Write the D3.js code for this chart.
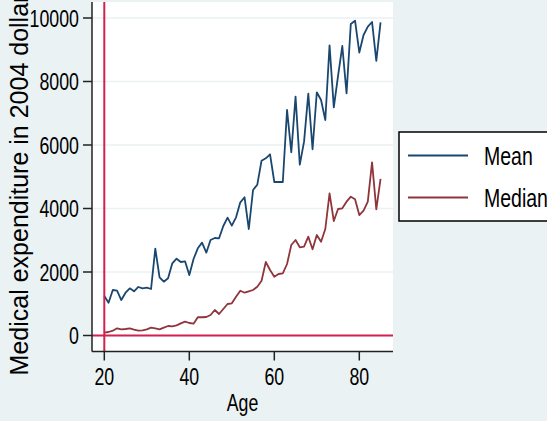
<script src="https://d3js.org/d3.v7.min.js"></script>

<body style="margin: 0;">
<svg id="vis"></svg>
</body>

<script>

  /***** DATA *****/

  var ages = d3.range(20, 86)

  var meanSpend = [1244, 1033, 1433, 1411, 1118, 1348, 1486, 1392, 1528, 1486,
    1506, 1465, 2735, 1833, 1695, 1801, 2273, 2419, 2315, 2336,
    1905, 2409, 2746, 2924, 2609, 3008, 3071, 3061, 3449, 3711,
    3459, 3722, 4195, 4353, 3354, 4583, 4750, 5506, 5581, 5707,
    4835, 4835, 4835, 7102, 5770, 7522, 5380, 6105, 7616, 5865,
    7660, 7417, 6787, 9140, 7186, 8180, 9118, 7627, 9811, 9916,
    8913, 9465, 9727, 9874, 8650, 9864]

  var medianSpend = [89, 110, 152, 226, 194, 205, 226, 184, 152, 163,
    194, 247, 226, 194, 247, 299, 289, 320, 383, 436,
    394, 372, 575, 575, 583, 646, 803, 677, 835, 992,
    1014, 1222, 1411, 1348, 1392, 1433, 1537, 1726, 2315, 2063,
    1852, 1937, 1958, 2252, 2850, 3008, 2778, 2797, 3112, 2715,
    3165, 2955, 3354, 4478, 3606, 3984, 4006, 4215, 4372, 4290,
    3795, 3932, 4215, 5455, 3974, 4934]

  var xTicks = [20, 40, 60, 80]
  var yTicks = [0, 2000, 4000, 6000, 8000, 10000]
  var seriesNames = ['Mean', 'Median']


  /***** SETUP *****/

  var width = 547
  var height = 421

  var svg = d3.select('#vis')
  .attr('width', width)
  .attr('height', height)
  .style('display', 'block')
  .style('font-family', 'Liberation Sans, Arial, sans-serif')

  // Plot region edges (note: "top" is taken by window.top)
  var plotLeft = 92, plotRight = 393, plotTop = 2, plotBottom = 351.5

  var xscale = d3.scaleLinear()
  .domain([20, 80])
  .range([104.3, 359.3])

  var yscale = d3.scaleLinear()
  .domain([0, 10000])
  .range([335.5, 18])

  var colors = ['#1a476f', '#90353b']
  var refRed = '#d2214e'
  var squeeze = 0.74

  // Background
  svg.append('rect')
  .attr('width', width)
  .attr('height', height)
  .attr('fill', '#eaf2f3')

  svg.append('rect')
  .attr('x', plotLeft)
  .attr('y', plotTop)
  .attr('width', plotRight - plotLeft)
  .attr('height', plotBottom - plotTop)
  .attr('fill', 'white')


  /***** GRID *****/

  svg.selectAll('.grid')
  .data(yTicks)
  .enter()
  .append('line')
  .attr('class', 'grid')
  .attr('x1', plotLeft)
  .attr('x2', plotRight)
  .attr('y1', function(d) { return yscale(d) })
  .attr('y2', function(d) { return yscale(d) })
  .style('stroke', '#eaf2f3')
  .style('stroke-width', 1.5)


  /***** SERIES *****/

  var line = d3.line()
  .x(function(d) { return xscale(d[0]) })
  .y(function(d) { return yscale(d[1]) })

  var series = [meanSpend, medianSpend]

  series.forEach(function(vals, i) {
    svg.append('path')
    .datum(ages.map(function(a, j) { return [a, vals[j]] }))
    .attr('d', line)
    .attr('fill', 'none')
    .style('stroke', colors[i])
    .style('stroke-width', 1.8)
    .style('stroke-linejoin', 'round')
  })

  // xline(20) and yline(0)
  svg.append('line')
  .attr('x1', xscale(20))
  .attr('x2', xscale(20))
  .attr('y1', plotTop)
  .attr('y2', plotBottom)
  .style('stroke', refRed)
  .style('stroke-width', 2)

  svg.append('line')
  .attr('x1', plotLeft)
  .attr('x2', plotRight)
  .attr('y1', yscale(0))
  .attr('y2', yscale(0))
  .style('stroke', refRed)
  .style('stroke-width', 2)


  /***** AXES *****/

  svg.append('line')
  .attr('x1', plotLeft)
  .attr('x2', plotLeft)
  .attr('y1', plotTop)
  .attr('y2', plotBottom)
  .style('stroke', '#222')
  .style('stroke-width', 1.5)

  svg.append('line')
  .attr('x1', plotLeft)
  .attr('x2', plotRight)
  .attr('y1', plotBottom)
  .attr('y2', plotBottom)
  .style('stroke', '#222')
  .style('stroke-width', 1.5)

  svg.selectAll('.ytick')
  .data(yTicks)
  .enter()
  .append('line')
  .attr('class', 'ytick')
  .attr('x1', plotLeft - 9)
  .attr('x2', plotLeft)
  .attr('y1', function(d) { return yscale(d) })
  .attr('y2', function(d) { return yscale(d) })
  .style('stroke', '#222')
  .style('stroke-width', 1.5)

  svg.selectAll('.ylab')
  .data(yTicks)
  .enter()
  .append('text')
  .attr('class', 'ylab')
  .text(function(d) { return d })
  .attr('text-anchor', 'end')
  .attr('dy', '0.36em')
  .attr('transform', function(d) { return 'translate(79,' + yscale(d) + ') scale(' + squeeze + ',1)' })
  .style('font-size', 24)
  .style('fill', 'black')

  svg.selectAll('.xtick')
  .data(xTicks)
  .enter()
  .append('line')
  .attr('class', 'xtick')
  .attr('x1', function(d) { return xscale(d) })
  .attr('x2', function(d) { return xscale(d) })
  .attr('y1', plotBottom)
  .attr('y2', plotBottom + 9)
  .style('stroke', '#222')
  .style('stroke-width', 1.5)

  svg.selectAll('.xlab')
  .data(xTicks)
  .enter()
  .append('text')
  .attr('class', 'xlab')
  .text(function(d) { return d })
  .attr('text-anchor', 'middle')
  .attr('transform', function(d) { return 'translate(' + xscale(d) + ',385) scale(' + squeeze + ',1)' })
  .style('font-size', 24)
  .style('fill', 'black')

  // Axis titles
  svg.append('text')
  .text('Age')
  .attr('text-anchor', 'middle')
  .attr('transform', 'translate(' + (plotLeft + plotRight) / 2 + ',411) scale(' + squeeze + ',1)')
  .style('font-size', 24)
  .style('fill', 'black')

  svg.append('text')
  .text('Medical expenditure in 2004 dollars')
  .attr('text-anchor', 'middle')
  .attr('transform', 'translate(28,' + ((plotTop + plotBottom) / 2 + 2) + ') rotate(-90)')
  .style('font-size', 25)
  .style('fill', 'black')


  /***** LEGEND *****/

  var legend = svg.append('g')
  .attr('transform', 'translate(399,132)')

  legend.append('rect')
  .attr('width', 170)
  .attr('height', 89)
  .attr('fill', 'white')
  .style('stroke', 'black')
  .style('stroke-width', 1.5)

  var items = legend.selectAll('.item')
  .data(seriesNames)
  .enter()
  .append('g')
  .attr('class', 'item')
  .attr('transform', function(d, i) { return 'translate(0,' + (23.5 + i * 42) + ')' })

  items.append('line')
  .attr('x1', 9)
  .attr('x2', 69)
  .style('stroke', function(d, i) { return colors[i] })
  .style('stroke-width', 2)

  items.append('text')
  .text(function(d) { return d })
  .attr('dy', '0.36em')
  .attr('transform', 'translate(85,0) scale(0.78,1)')
  .style('font-size', 25)
  .style('fill', 'black')

</script>
